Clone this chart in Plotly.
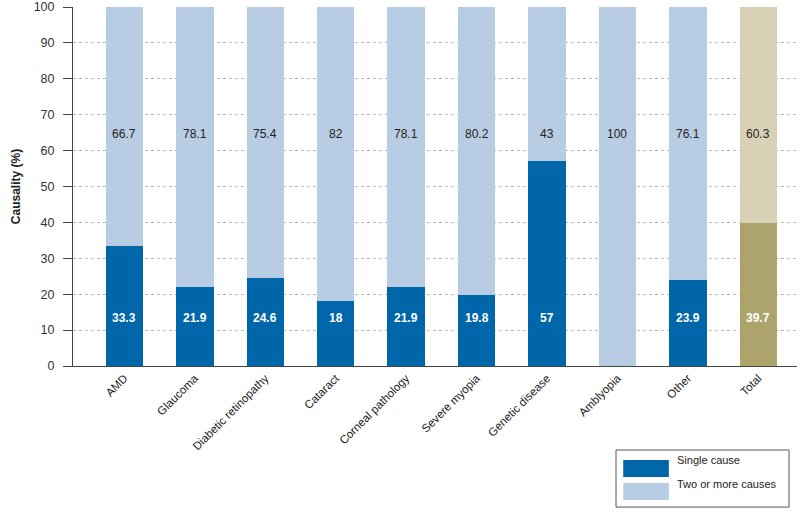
import plotly.graph_objects as go

categories = ["AMD", "Glaucoma", "Diabetic retinopathy", "Cataract", "Corneal pathology",
              "Severe myopia", "Genetic disease", "Amblyopia", "Other", "Total"]
single_cause = [33.3, 21.9, 24.6, 18, 21.9, 19.8, 57, 0, 23.9, 39.7]
two_or_more = [66.7, 78.1, 75.4, 82, 78.1, 80.2, 43, 100, 76.1, 60.3]

single_colors = ["#0066AA"] * 9 + ["#ADA46C"]
multi_colors = ["#B8CCE4"] * 9 + ["#D9D1B5"]

FONT = "Liberation Sans, Arial, sans-serif"

fig = go.Figure()
fig.add_trace(go.Bar(x=categories, y=single_cause, marker=dict(color=single_colors, line_width=0),
                     width=0.53, name="Single cause", showlegend=False, hoverinfo="x+y"))
fig.add_trace(go.Bar(x=categories, y=two_or_more, marker=dict(color=multi_colors, line_width=0),
                     width=0.53, name="Two or more causes", showlegend=False, hoverinfo="x+y"))

annotations = []
for c, s, m in zip(categories, single_cause, two_or_more):
    if s > 0:
        annotations.append(dict(x=c, y=13.4, text=f"<b>{s:g}</b>", showarrow=False,
                                font=dict(family=FONT, size=12, color="white")))
    annotations.append(dict(x=c, y=64.6, text=f"{m:g}", showarrow=False,
                            font=dict(family=FONT, size=12, color="#222222")))

# custom legend
shapes = [
    dict(type="rect", xref="paper", yref="paper", x0=0.750, x1=0.989, y0=-0.393, y1=-0.234,
         line=dict(color="#555555", width=1), fillcolor="white"),
    dict(type="rect", xref="paper", yref="paper", x0=0.760, x1=0.823, y0=-0.309, y1=-0.262,
         line_width=0, fillcolor="#0066AA"),
    dict(type="rect", xref="paper", yref="paper", x0=0.760, x1=0.823, y0=-0.373, y1=-0.326,
         line_width=0, fillcolor="#B8CCE4"),
]
annotations += [
    dict(xref="paper", yref="paper", x=0.832, y=-0.2855, text="Single cause", showarrow=False,
         xanchor="left", font=dict(family=FONT, size=11, color="#222222")),
    dict(xref="paper", yref="paper", x=0.832, y=-0.3496, text="Two or more causes", showarrow=False,
         xanchor="left", font=dict(family=FONT, size=11, color="#222222")),
]

fig.update_layout(
    barmode="stack",
    width=800, height=514,
    margin=dict(l=73, r=3, t=7, b=148, autoexpand=False),
    plot_bgcolor="white", paper_bgcolor="white",
    font=dict(family=FONT, size=12, color="#333333"),
    annotations=annotations,
    shapes=shapes,
    xaxis=dict(range=[-0.73, 9.55], tickangle=-45, showline=True, linecolor="#444444",
               linewidth=1, ticks="", tickfont=dict(family=FONT, size=11.5, color="#1a1a1a"),
               showgrid=False, fixedrange=True, automargin=False),
    yaxis=dict(range=[0, 100], tickvals=list(range(0, 101, 10)), showline=True,
               linecolor="#444444", linewidth=1, ticks="outside", ticklen=9, tickcolor="#444444",
               ticklabelstandoff=6,
               showgrid=True, gridcolor="#BBBBBB", griddash="dot", gridwidth=1,
               zeroline=False, tickfont=dict(family=FONT, size=12.5, color="#333333"),
               automargin=False, fixedrange=True,
               title=dict(text="<b>Causality (%)</b>", standoff=10,
                          font=dict(family=FONT, size=12, color="#222222"))),
    bargap=0.47,
)

fig.write_html("out.html", config={"displayModeBar": False},
               post_script="document.body.style.margin='0';")
